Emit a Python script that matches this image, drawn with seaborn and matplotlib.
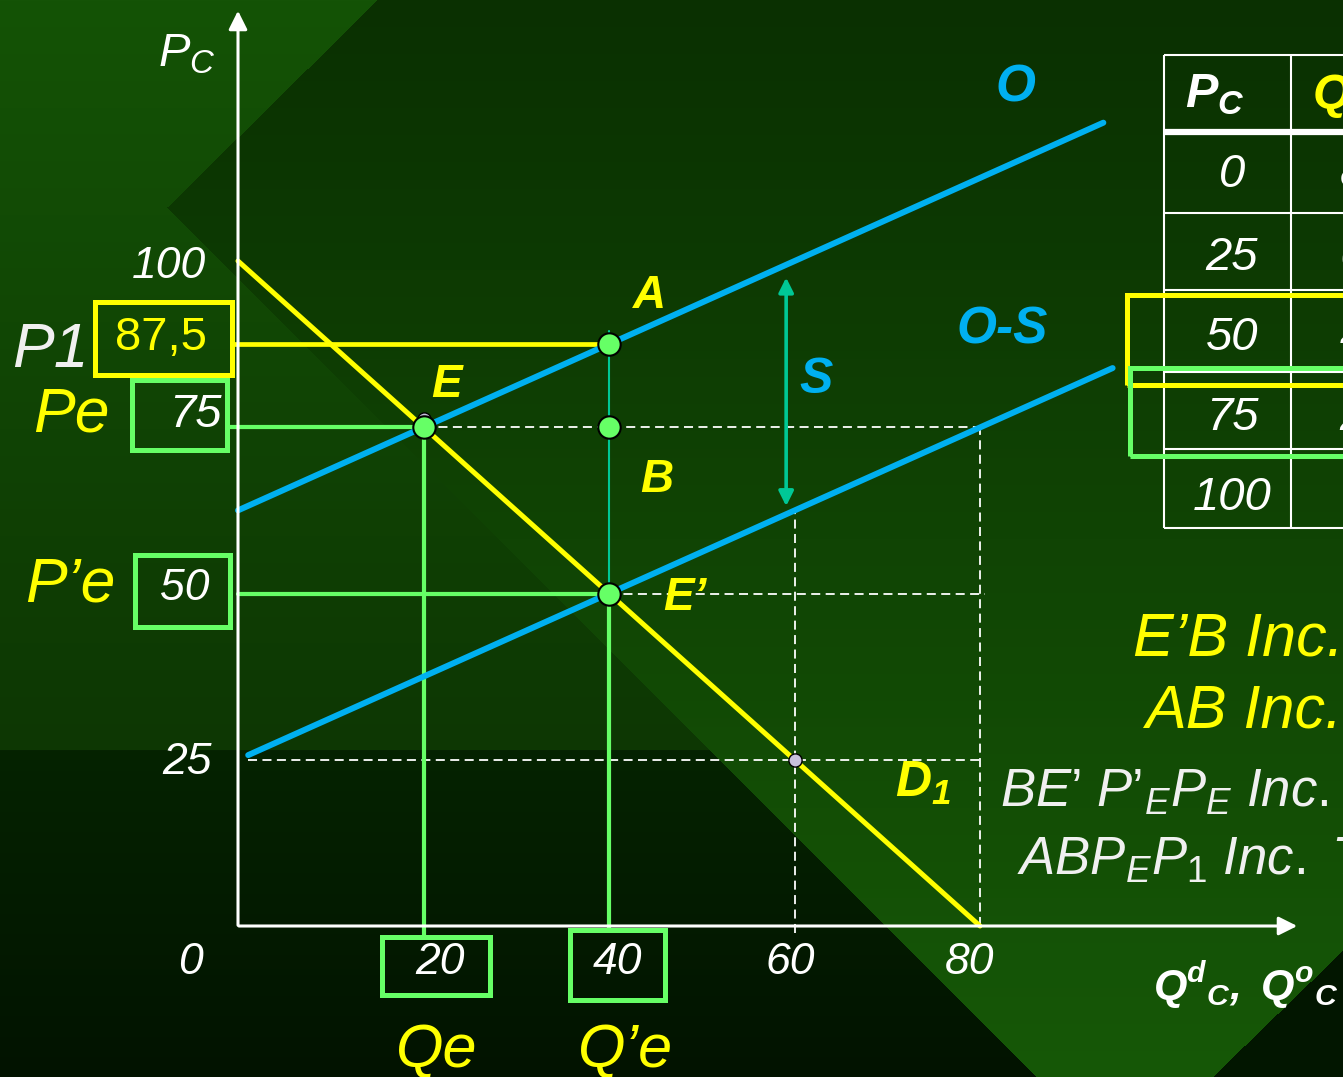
import numpy as np
import pandas as pd
import seaborn as sns
import matplotlib.pyplot as plt
from matplotlib.patches import Rectangle

# valores
q_ticks = [20, 40, 60, 80]
p_ticks = [25, 50, 75, 100]

demand_q = [0, 80]
demand_p = [100, 0]
supply_q = [0, 93.3]
supply_p = [62.5, 120.8]
supply_tax_q = [1.1, 94.3]
supply_tax_p = [25.7, 83.9]

pts_name = ["E", "A", "B", "E’"]
pts_q = [20, 40, 40, 40]
pts_p = [75, 87.5, 75, 50]

p1 = 87.5
pe = 75
pe_new = 50
qe = 20
qe_new = 40
tax_q = 59.1

table_p = [0, 25, 50, 75, 100]
table_q = [80, 60, 40, 20, 0]

YELLOW = "#ffff00"
BLUE = "#00b0f0"
GREEN = "#66ff66"
TEAL = "#00c896"

# pixel -> data
W, H = 1343, 1077
X0, SX = 238, 9.275
Y0, SY = 926, 6.65


def dx(px):
    return (px - X0) / SX


def dy(py):
    return (Y0 - py) / SY


def supply_at(q, qs, ps):
    return ps[0] + (ps[1] - ps[0]) / (qs[1] - qs[0]) * (q - qs[0])


sns.set_style("dark")
plt.rcParams["font.family"] = ["Liberation Sans", "DejaVu Sans"]
plt.rcParams["mathtext.fontset"] = "custom"
plt.rcParams["mathtext.rm"] = "Liberation Sans"
plt.rcParams["mathtext.it"] = "Liberation Sans:italic"
plt.rcParams["mathtext.bf"] = "Liberation Sans:italic:bold"

fig = plt.figure(figsize=(13.43, 10.77), dpi=100)
ax = fig.add_axes([0, 0, 1, 1])


# fondo tipo diapositiva
def rgb(h):
    return np.array([int(h[i:i + 2], 16) for i in (1, 3, 5)]) / 255.0


yy, xx = np.mgrid[0:H, 0:W].astype(float)
t = (yy / H)[..., None]
bg = rgb("#0a3001") * (1 - t) + rgb("#165807") * t
xl1 = 377 - 210 * yy / 207
xl2 = 167 + (yy - 207)
left = np.where(yy < 207, xx < xl1, xx < xl2)
tl = np.clip(yy / 750, 0, 1)[..., None]
left_col = rgb("#145306") * (1 - tl) + rgb("#0d3703") * tl
tb = np.clip((yy - 750) / (H - 750), 0, 1)[..., None]
low_col = rgb("#052301") * (1 - tb) + rgb("#021300") * tb
bg = np.where((left & (yy < 750))[..., None], left_col, bg)
bg = np.where((left & (yy >= 750))[..., None], low_col, bg)
br = yy > 950 + (1343 - xx) * (127 / 131)
bg = np.where(br[..., None], rgb("#021600"), bg)
ax.imshow(bg, extent=(dx(0), dx(W), dy(H), dy(0)), aspect="auto",
          zorder=0, interpolation="bilinear")

# lineas de referencia punteadas
dash = (0, (5, 3))
ax.hlines([pe], qe, 79.8, colors="white", lw=1.3, linestyles=dash, zorder=2)
ax.hlines([pe_new], qe_new, 80.5, colors="white", lw=1.3, linestyles=dash, zorder=2)
ax.hlines([25], 1.1, 80, colors="white", lw=1.3, linestyles=dash, zorder=2)
ax.vlines([80], 0, pe, colors="white", lw=1.3, linestyles=dash, zorder=2)
ax.vlines([60], -1, supply_at(60, supply_tax_q, supply_tax_p), colors="white",
          lw=1.3, linestyles=dash, zorder=2)

# curvas
sns.lineplot(x=demand_q, y=demand_p, ax=ax, color=YELLOW, lw=3.6, zorder=4)
sns.lineplot(x=supply_q, y=supply_p, ax=ax, color=BLUE, lw=4.3, zorder=4)
sns.lineplot(x=supply_tax_q, y=supply_tax_p, ax=ax, color=BLUE, lw=4.3, zorder=4)

# lineas de precios y cantidades
ax.plot([dx(232), qe_new], [p1, p1], color=YELLOW, lw=3.4, zorder=3)
ax.plot([dx(227), qe], [pe, pe], color=GREEN, lw=3, zorder=3)
ax.plot([0, qe_new], [pe_new, pe_new], color=GREEN, lw=3, zorder=3)
ax.plot([qe, qe], [pe, dy(937)], color=GREEN, lw=3, zorder=3)
ax.plot([qe_new, qe_new], [pe_new, dy(930)], color=GREEN, lw=3, zorder=3)
ax.plot([qe_new, qe_new], [89.5, pe_new], color=TEAL, lw=1.5, zorder=3)

# flecha del impuesto
ax.annotate("", xy=(tax_q, supply_at(tax_q, supply_q, supply_p) - 1.5),
            xytext=(tax_q, supply_at(tax_q, supply_tax_q, supply_tax_p) + 0.8),
            arrowprops=dict(arrowstyle="<|-|>", color=TEAL, lw=2.6,
                            mutation_scale=22), zorder=5)

# puntos
sns.scatterplot(x=[20, 60], y=[76.3, 25], ax=ax, color="#c8c0dc", s=90,
                edgecolor="black", linewidth=1, zorder=5)
sns.scatterplot(x=pts_q, y=pts_p, ax=ax, color=GREEN, s=260,
                edgecolor="black", linewidth=1.5, zorder=6)

# ejes
ax.annotate("", xy=(0, dy(8)), xytext=(0, -0.3),
            arrowprops=dict(arrowstyle="-|>", color="white", lw=2.2,
                            mutation_scale=28), zorder=4)
ax.annotate("", xy=(dx(1300), 0), xytext=(-0.2, 0),
            arrowprops=dict(arrowstyle="-|>", color="white", lw=2.2,
                            mutation_scale=28), zorder=4)


def box(x0, y0, x1, y1, color):
    ax.add_patch(Rectangle((dx(x0), dy(y1)), dx(x1) - dx(x0), dy(y0) - dy(y1),
                           fill=False, ec=color, lw=3.6, zorder=7))


def txt(x, y, s, size, color="white", weight="normal", style="italic",
        ha="center", va="center"):
    ax.text(dx(x), dy(y), s, fontsize=size, color=color, fontweight=weight,
            fontstyle=style, ha=ha, va=va, zorder=8)


box(95, 302, 232, 375, YELLOW)
box(132, 380, 227, 450, GREEN)
box(135, 555, 230, 627, GREEN)
box(382, 937, 490, 995, GREEN)
box(570, 930, 665, 1000, GREEN)

# etiquetas de ejes
txt(190, 962, "0", 32)
tick_px = [440, 617, 790, 970]
for q, tx in zip(q_ticks, tick_px):
    txt(tx, 963, str(q), 32)
txt(206, 267, str(p_ticks[3]), 32, ha="right")
txt(212, 763, str(p_ticks[0]), 32, ha="right")
txt(195, 415, str(p_ticks[2]), 34)
txt(185, 588, str(p_ticks[1]), 32)
txt(161, 338, "87,5", 34, color=YELLOW, style="normal")

txt(158, 66, r"$P_{C}$", 34, ha="left", va="baseline")
txt(12, 367, "P1", 45, color="#f0f0f0", ha="left", va="baseline")
txt(33, 431, "Pe", 45, color=YELLOW, ha="left", va="baseline")
txt(25, 602, "P’e", 45, color=YELLOW, ha="left", va="baseline")
txt(437, 1067, "Qe", 44, color=YELLOW, va="baseline")
txt(626, 1067, "Q’e", 44, color=YELLOW, va="baseline")
txt(1153, 1000, r"$\mathbf{Q^{d}{}_{C},\ Q^{o}{}_{C}}$", 31, ha="left",
    va="baseline")

# nombres de puntos y curvas
lab_xy = [(447, 385), (650, 296), (657, 480), (685, 598)]
for name, (lx, ly) in zip(pts_name, lab_xy):
    txt(lx, ly, name, 33, color=YELLOW, weight="bold")
txt(1015, 88, "O", 37, color=BLUE, weight="bold")
txt(1002, 330, "O-S", 37, color=BLUE, weight="bold")
txt(816, 380, "S", 36, color=BLUE, weight="bold")
txt(895, 797, r"$\mathbf{D_{1}}$", 36, color=YELLOW, ha="left", va="baseline")

# textos de la derecha
txt(1133, 655, "E’B Inc.", 44, color=YELLOW, ha="left", va="baseline")
txt(1145, 727, "AB Inc.", 44, color=YELLOW, ha="left", va="baseline")
txt(1000, 807, r"$BE’\ P’_{E}P_{E}\ Inc.T$", 38, color="#f0f0f0",
    ha="left", va="baseline")
txt(1017, 875, r"$ABP_{E}P_{1}\ Inc.\ T$", 38, color="#f0f0f0",
    ha="left", va="baseline")

# tabla
row_lines = [213, 290, 372, 449, 528]
ax.vlines([dx(1164), dx(1291)], dy(528), dy(55), colors="white", lw=1.5, zorder=6)
ax.hlines([dy(55)] + [dy(r) for r in row_lines], dx(1164), dx(W),
          colors="white", lw=1.5, zorder=6)
ax.hlines([dy(132)], dx(1164), dx(W), colors="white", lw=4.5, zorder=6)
txt(1215, 95, r"$\mathbf{P_{C}}$", 35, color="white")
txt(1313, 95, "Q", 35, color=YELLOW, weight="bold", ha="left")
row_y = [175, 258, 338, 418, 498]
for p, q, ry in zip(table_p, table_q, row_y):
    txt(1232, ry, str(p), 34)
    txt(1366, ry, str(q), 34)
box(1127, 295, 1360, 385, YELLOW)
box(1130, 368, 1360, 456, GREEN)

ax.set_xlim(dx(0), dx(W))
ax.set_ylim(dy(H), dy(0))
ax.set_axis_off()

plt.savefig("out.png", dpi=100)
